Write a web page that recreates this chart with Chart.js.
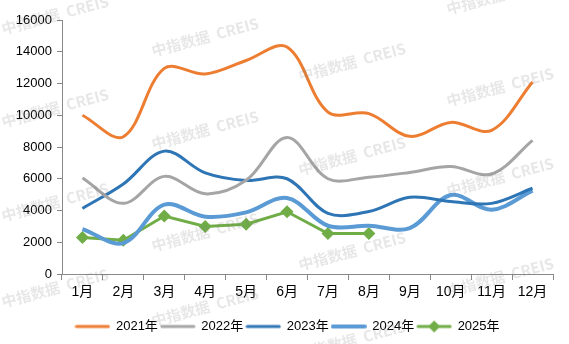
<!DOCTYPE html>
<html>
<head>
<meta charset="utf-8">
<script src="https://cdn.jsdelivr.net/npm/chart.js@4/dist/chart.umd.min.js"></script>
<style>
    body { margin: 0; background: #fff; }
    #chart { display: block; }
</style>
</head>
<body>
<canvas id="chart" width="569" height="344"></canvas>
<script>
// chart data
const months = ['1月', '2月', '3月', '4月', '5月', '6月', '7月', '8月', '9月', '10月', '11月', '12月'];
const years = ['2021年', '2022年', '2023年', '2024年', '2025年'];
const sales2021 = [10000, 8650, 12950, 12600, 13450, 14300, 10200, 10100, 8670, 9550, 9050, 12100];
const sales2022 = [6050, 4450, 6150, 5050, 5900, 8600, 6000, 6100, 6400, 6770, 6300, 8420];
const sales2023 = [4130, 5670, 7740, 6370, 5890, 6000, 3820, 3940, 4830, 4560, 4450, 5400];
const sales2024 = [2830, 1950, 4370, 3610, 3880, 4790, 3040, 3040, 2890, 4980, 4050, 5250];
const sales2025 = [2300, 2130, 3650, 2990, 3140, 3920, 2550, 2550];
const yTicks = [0, 2000, 4000, 6000, 8000, 10000, 12000, 14000, 16000];

const colors = ['#ED7D31', '#A5A5A5', '#2E75B6', '#5B9BD5', '#70AD47'];
const fontFamily = '"Liberation Sans", Arial, "Noto Sans CJK SC", sans-serif';

// small canvas used as legend symbol (line, optional diamond)
function legendSymbol(color, width, diamond) {
    const c = document.createElement('canvas');
    c.width = 36;
    c.height = 14;
    const ctx = c.getContext('2d');
    ctx.strokeStyle = color;
    ctx.lineWidth = width;
    ctx.lineCap = 'round';
    ctx.beginPath();
    ctx.moveTo(2, 7);
    ctx.lineTo(34, 7);
    ctx.stroke();
    if (diamond) {
        ctx.fillStyle = color;
        ctx.beginPath();
        ctx.moveTo(18, 1);
        ctx.lineTo(24, 7);
        ctx.lineTo(18, 13);
        ctx.lineTo(12, 7);
        ctx.closePath();
        ctx.fill();
    }
    return c;
}

// watermark "中指数据 CREIS"
const watermarkSpots = [
    [55, 15], [55, 108], [55, 202], [55, 288],
    [205, 37], [205, 130], [205, 232], [205, 307],
    [352, 62], [352, 156], [352, 251], [352, 340],
    [500, -5], [500, 87], [500, 177], [500, 277]
];
const watermark = {
    id: 'watermark',
    afterLayout(chart) {
        // legend sits a bit right of centre in the original
        chart.legend.left += 11;
        chart.legend.right += 11;
    },
    afterDraw(chart) {
        const ctx = chart.ctx;
        ctx.save();
        ctx.font = 'bold 15px "Noto Sans CJK SC", sans-serif';
        ctx.fillStyle = 'rgba(120, 120, 120, 0.18)';
        ctx.textAlign = 'center';
        ctx.textBaseline = 'middle';
        watermarkSpots.forEach(p => {
            ctx.save();
            ctx.translate(p[0], p[1]);
            ctx.rotate(-15 * Math.PI / 180);
            ctx.fillText('中指数据  CREIS', 0, 0);
            ctx.restore();
        });
        ctx.restore();
    }
};

const seriesData = [sales2021, sales2022, sales2023, sales2024, sales2025];
const lineWidths = [3, 3, 3, 4, 3];

const datasets = seriesData.map((values, i) => {
    const isLast = i === 4;
    return {
        label: years[i],
        data: values,
        borderColor: colors[i],
        backgroundColor: colors[i],
        borderWidth: lineWidths[i],
        tension: isLast ? 0 : 0.35,
        pointRadius: isLast ? 6.5 : 0,
        pointStyle: isLast ? 'rectRot' : 'circle',
        pointBorderWidth: 0,
        pointStyleImage: legendSymbol(colors[i], lineWidths[i], isLast)
    };
});

const config = {
    type: 'line',
    data: {
        labels: months,
        datasets: datasets
    },
    options: {
        responsive: false,
        animation: false,
        devicePixelRatio: 1,
        layout: {
            padding: { left: 0, right: 16, top: 20, bottom: 1 }
        },
        scales: {
            x: {
                offset: true,
                grid: {
                    offset: true,
                    drawOnChartArea: false,
                    drawTicks: true,
                    tickLength: 6,
                    color: '#898989'
                },
                border: { display: true, color: '#898989' },
                ticks: {
                    color: '#000',
                    padding: 4,
                    maxRotation: 0,
                    autoSkip: false,
                    font: { family: fontFamily, size: 14 }
                },
                afterFit: function (scale) {
                    scale.height = 43;
                }
            },
            y: {
                min: 0,
                max: 16000,
                afterBuildTicks: function (scale) {
                    scale.ticks = yTicks.map(v => ({ value: v }));
                },
                grid: {
                    drawOnChartArea: false,
                    drawTicks: true,
                    tickLength: 5,
                    color: '#898989'
                },
                border: { display: true, color: '#898989' },
                ticks: {
                    color: '#000',
                    padding: 5,
                    font: { family: fontFamily, size: 13 },
                    callback: function (value) {
                        return String(value); // no thousands separator
                    }
                },
                afterFit: function (scale) {
                    scale.width = 62;
                }
            }
        },
        plugins: {
            tooltip: { enabled: false },
            legend: {
                position: 'bottom',
                labels: {
                    usePointStyle: true,
                    pointStyleWidth: 34,
                    padding: 3,
                    color: '#000',
                    font: { family: fontFamily, size: 13 },
                    generateLabels: function (chart) {
                        return chart.data.datasets.map((ds, i) => ({
                            text: ds.label,
                            datasetIndex: i,
                            pointStyle: ds.pointStyleImage,
                            fillStyle: ds.borderColor,
                            strokeStyle: ds.borderColor,
                            lineWidth: 0,
                            hidden: false
                        }));
                    }
                }
            }
        }
    },
    plugins: [watermark]
};

const chart = new Chart(document.getElementById('chart'), config);
</script>
</body>
</html>
